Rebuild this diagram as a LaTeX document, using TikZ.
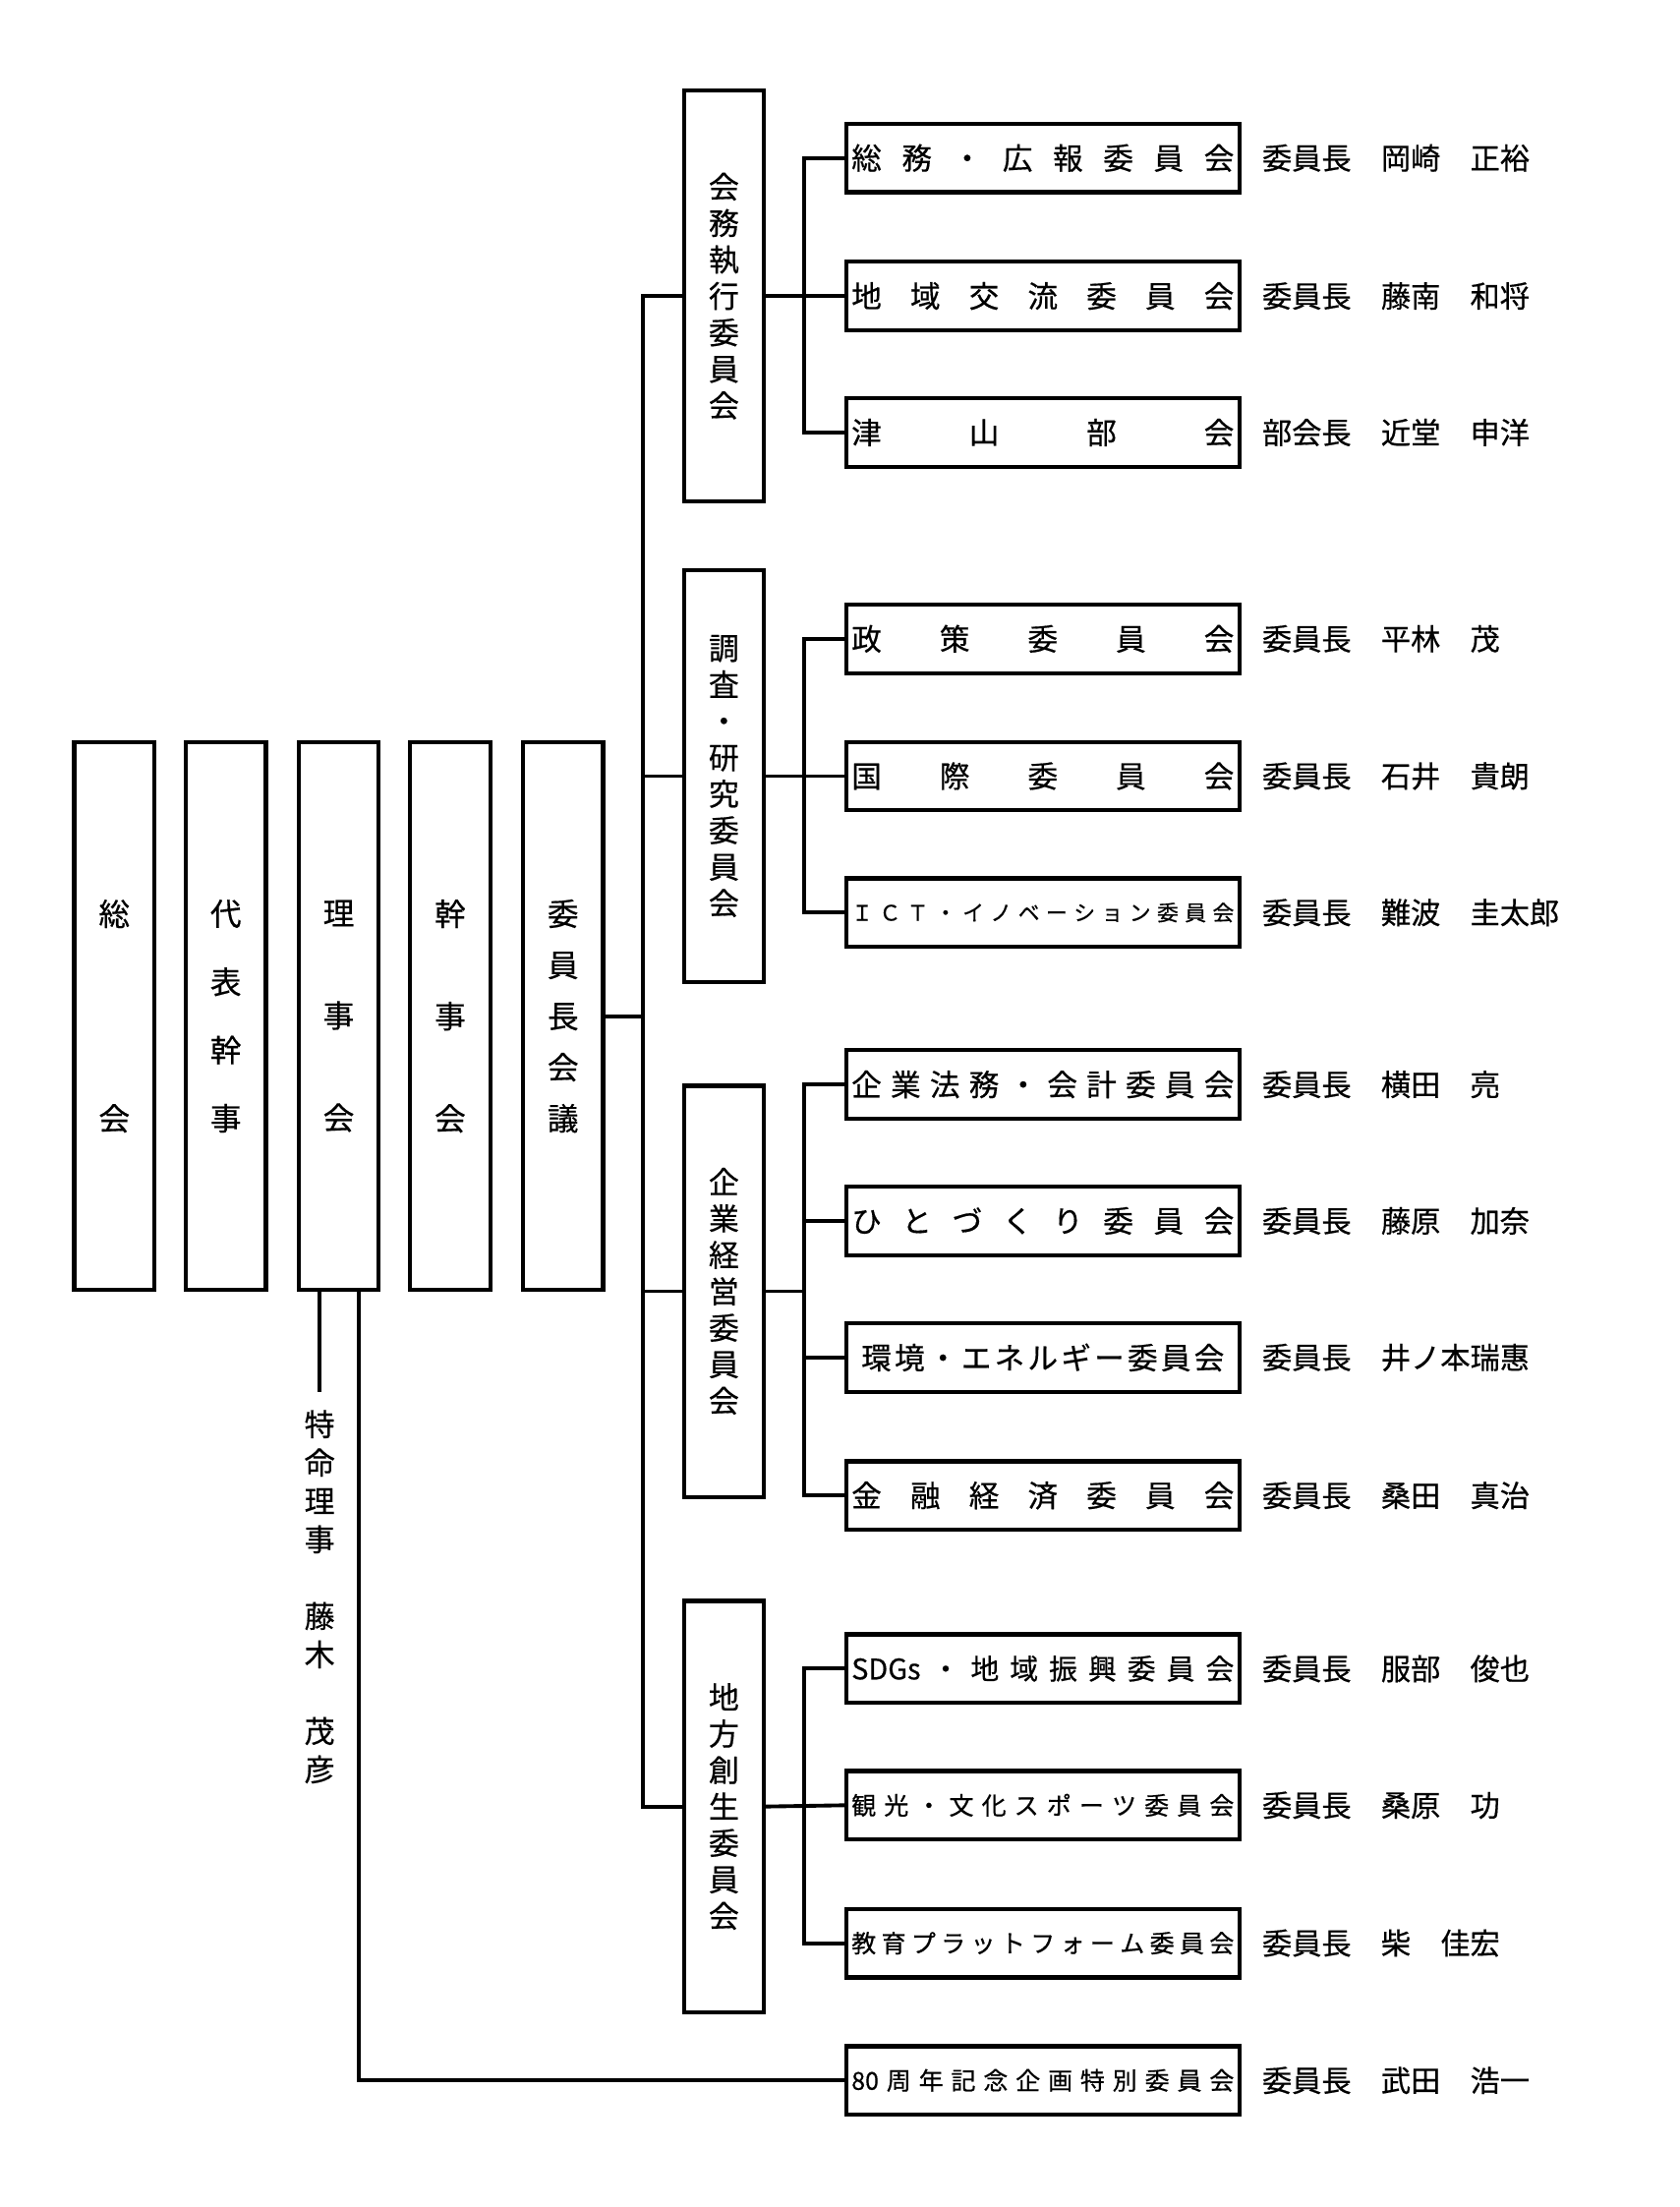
\documentclass[tikz,border=0pt]{standalone}
\usepackage{fontspec}
\setmainfont{Noto Sans CJK JP}[FakeBold=0.5]
\begin{document}
\begin{tikzpicture}[x=0.4084pt,y=-0.4084pt,
  frame/.style={draw, line width=1.2pt, inner sep=0pt},
  tallbox/.style={frame, minimum width=23.2pt, minimum height=158.5pt, align=center},
  midbox/.style={frame, minimum width=23.2pt, minimum height=119pt, align=center, font=\fontsize{8.8pt}{10.55pt}\selectfont},
  combox/.style={frame, minimum width=113.9pt, minimum height=19.8pt, font=\fontsize{8.7pt}{10pt}\selectfont},
  person/.style={anchor=west, inner sep=0pt, font=\fontsize{8.6pt}{10pt}\selectfont},
  link/.style={line width=1.1pt, line cap=rect}]
\fill[white] (0,0) rectangle (1190,1564);
\useasboundingbox (0,0) rectangle (1190,1564);

% left column
\node[tallbox, font=\fontsize{9pt}{59.2pt}\selectfont] (soukai) at (81,720.1) {総\\会};
\node[tallbox, font=\fontsize{9pt}{19.74pt}\selectfont] (daihyo) at (160,720.1) {代\\表\\幹\\事};
\node[tallbox, font=\fontsize{9pt}{29.6pt}\selectfont] (riji) at (240,720.1) {理\\事\\会};
\node[tallbox, font=\fontsize{9pt}{29.6pt}\selectfont] (kanji) at (319,720.1) {幹\\事\\会};
\node[tallbox, font=\fontsize{9pt}{14.8pt}\selectfont] (kaigi) at (399,720.1) {委\\員\\長\\会\\議};

% middle column
\node[midbox] (g1) at (513,209.8) {会\\務\\執\\行\\委\\員\\会};
\node[midbox] (g2) at (513,550) {調\\査\\・\\研\\究\\委\\員\\会};
\node[midbox] (g3) at (513,915.1) {企\\業\\経\\営\\委\\員\\会};
\node[midbox] (g4) at (513,1280.2) {地\\方\\創\\生\\委\\員\\会};

% committees
\node[combox] (c1) at (739,112) {\makebox[110.7pt][s]{総\hfill 務\hfill ・\hfill 広\hfill 報\hfill 委\hfill 員\hfill 会}};
\node[combox] (c2) at (739,209.8) {\makebox[110.7pt][s]{地\hfill 域\hfill 交\hfill 流\hfill 委\hfill 員\hfill 会}};
\node[combox] (c3) at (739,306.5) {\makebox[110.7pt][s]{津\hfill 山\hfill 部\hfill 会}};
\node[combox] (c4) at (739,452.7) {\makebox[110.7pt][s]{政\hfill 策\hfill 委\hfill 員\hfill 会}};
\node[combox] (c5) at (739,550) {\makebox[110.7pt][s]{国\hfill 際\hfill 委\hfill 員\hfill 会}};
\node[combox, font=\fontsize{6.2pt}{8pt}\selectfont] (c6) at (739,646.7) {\makebox[110.7pt][s]{Ｉ\hfill Ｃ\hfill Ｔ\hfill ・\hfill イ\hfill ノ\hfill ベ\hfill ー\hfill シ\hfill ョ\hfill ン\hfill 委\hfill 員\hfill 会}};
\node[combox] (c7) at (739,768.5) {\makebox[110.7pt][s]{企\hfill 業\hfill 法\hfill 務\hfill ・\hfill 会\hfill 計\hfill 委\hfill 員\hfill 会}};
\node[combox] (c8) at (739,865.2) {\makebox[110.7pt][s]{ひ\hfill と\hfill づ\hfill く\hfill り\hfill 委\hfill 員\hfill 会}};
\node[combox] (c9) at (739,962) {\makebox[105pt][s]{環\hfill 境\hfill ・\hfill エ\hfill ネ\hfill ル\hfill ギ\hfill ー\hfill 委\hfill 員\hfill 会}};
\node[combox] (c10) at (739,1059.8) {\makebox[110.7pt][s]{金\hfill 融\hfill 経\hfill 済\hfill 委\hfill 員\hfill 会}};
\node[combox, font=\fontsize{8.2pt}{10pt}\selectfont] (c11) at (739,1182.5) {\makebox[110.7pt][s]{SDGs\hfill ・\hfill 地\hfill 域\hfill 振\hfill 興\hfill 委\hfill 員\hfill 会}};
\node[combox, font=\fontsize{7.1pt}{9pt}\selectfont] (c12) at (739,1279.3) {\makebox[110.7pt][s]{観\hfill 光\hfill ・\hfill 文\hfill 化\hfill ス\hfill ポ\hfill ー\hfill ツ\hfill 委\hfill 員\hfill 会}};
\node[combox, font=\fontsize{7.1pt}{9pt}\selectfont] (c13) at (739,1377) {\makebox[110.7pt][s]{教\hfill 育\hfill プ\hfill ラ\hfill ッ\hfill ト\hfill フ\hfill ォ\hfill ー\hfill ム\hfill 委\hfill 員\hfill 会}};
\node[combox, font=\fontsize{7.1pt}{9pt}\selectfont] (c14) at (739,1474.3) {\makebox[110.7pt][s]{80\hfill 周\hfill 年\hfill 記\hfill 念\hfill 企\hfill 画\hfill 特\hfill 別\hfill 委\hfill 員\hfill 会}};

% chairpersons
\node[person] (p1) at (894,112) {委員長　岡崎　正裕};
\node[person] (p2) at (894,209.8) {委員長　藤南　和将};
\node[person] (p3) at (894,306.5) {部会長　近堂　申洋};
\node[person] (p4) at (894,452.7) {委員長　平林　茂};
\node[person] (p5) at (894,550) {委員長　石井　貴朗};
\node[person] (p6) at (894,646.7) {委員長　難波　圭太郎};
\node[person] (p7) at (894,768.5) {委員長　横田　亮};
\node[person] (p8) at (894,865.2) {委員長　藤原　加奈};
\node[person] (p9) at (894,962) {委員長　井ノ本瑞惠};
\node[person] (p10) at (894,1059.8) {委員長　桑田　真治};
\node[person] (p11) at (894,1182.5) {委員長　服部　俊也};
\node[person] (p12) at (894,1279.3) {委員長　桑原　功};
\node[person] (p13) at (894,1377) {委員長　柴　佳宏};
\node[person] (p14) at (894,1474.3) {委員長　武田　浩一};

% special director
\node[inner sep=0pt, align=center, font=\fontsize{8.8pt}{11.1pt}\selectfont] (tokumei) at (226.5,1131.6) {特\\命\\理\\事\\　\\藤\\木\\　\\茂\\彦};

% bus coordinates
\coordinate (b1) at (455.5,0);
\coordinate (b2) at (570,0);
\coordinate (rl) at (226.5,985);
\coordinate (rr) at (254,0);

% main bus
\draw[link] (kaigi.east) -- (kaigi.east -| b1);
\draw[link] (g1.west -| b1) -- (g4.west -| b1);
\foreach \g in {g1,g2,g3,g4} \draw[link] (\g.west -| b1) -- (\g.west);

% group 1
\draw[link] (g1.east) -- (c2.west);
\draw[link] (c1.west -| b2) -- (c3.west -| b2);
\foreach \c in {c1,c3} \draw[link] (\c.west -| b2) -- (\c.west);
% group 2
\draw[link] (g2.east) -- (c5.west);
\draw[link] (c4.west -| b2) -- (c6.west -| b2);
\foreach \c in {c4,c6} \draw[link] (\c.west -| b2) -- (\c.west);
% group 3
\draw[link] (g3.east) -- (g3.east -| b2);
\draw[link] (c7.west -| b2) -- (c10.west -| b2);
\foreach \c in {c7,c8,c9,c10} \draw[link] (\c.west -| b2) -- (\c.west);
% group 4
\draw[link] (g4.east) -- (c12.west);
\draw[link] (c11.west -| b2) -- (c13.west -| b2);
\foreach \c in {c11,c13} \draw[link] (\c.west -| b2) -- (\c.west);

% board branches
\draw[link] (riji.south -| rl) -- (rl);
\draw[link] (riji.south -| rr) |- (c14.west);
\end{tikzpicture}
\end{document}
